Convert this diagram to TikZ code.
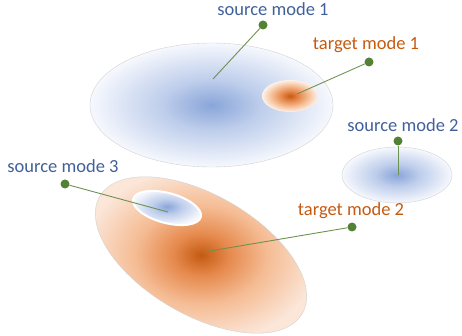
\documentclass[tikz,border=0pt]{standalone}
\usepackage{fontspec}
\setmainfont{Carlito}
\usepackage{xcolor}
\usetikzlibrary{shapes.geometric, positioning}

\definecolor{srcblue}{HTML}{41609A}
\definecolor{tgtorange}{HTML}{C55A11}
\definecolor{knobgreen}{HTML}{548235}
\definecolor{stickgreen}{HTML}{6E9150}
\definecolor{bluecore}{HTML}{89A5D9}
\definecolor{bluemid}{HTML}{BDCDEB}
\definecolor{bluerim}{HTML}{F6F8FD}
\definecolor{orangecore}{HTML}{C55A11}
\definecolor{orangedeep}{HTML}{E68A4E}
\definecolor{orangemid}{HTML}{F5BC94}
\definecolor{peach}{HTML}{FBE6D8}
\definecolor{peachrim}{HTML}{FDF2EA}

\pgfdeclareradialshading{bluemode}{\pgfpoint{0bp}{0bp}}{color(0bp)=(bluecore); color(10bp)=(bluemid); color(25bp)=(bluerim); color(50bp)=(bluerim)}
\pgfdeclareradialshading{orangemode}{\pgfpoint{0bp}{0bp}}{color(0bp)=(orangecore); color(6bp)=(orangedeep); color(14bp)=(orangemid); color(25bp)=(peach); color(50bp)=(peach)}
\pgfdeclareradialshading{smallorange}{\pgfpoint{0bp}{0bp}}{color(0bp)=(orangecore); color(8bp)=(orangedeep); color(16bp)=(orangemid); color(25bp)=(peachrim); color(50bp)=(peachrim)}

\begin{document}
\begin{tikzpicture}[x=1pt, y=-1pt,
	mode/.style={ellipse, inner sep=0pt},
	rimline/.style={draw=gray!35, line width=0.4pt},
	srctext/.style={text=srcblue, font=\fontsize{18.5}{22}\selectfont, anchor=base, inner sep=0pt},
	tgttext/.style={srctext, text=tgtorange},
	knob/.style={circle, fill=knobgreen, inner sep=0pt, minimum size=9pt},
	stick/.style={draw=stickgreen, line width=0.9pt}]
	
	\useasboundingbox (0,0) rectangle (462,336);
	
	% modes
	\node[mode, rimline, minimum width=243pt, minimum height=124pt, shading=bluemode] (m1) at (211.5,105) {};
	\node[mode, minimum width=56pt, minimum height=32pt, shading=smallorange] (n1) at (290,96) {};
	\node[mode, rimline, minimum width=110pt, minimum height=56pt, shading=bluemode] (m2) at (397,175) {};
	\node[mode, rimline, minimum width=234pt, minimum height=120pt, rotate=-30, shading=orangemode] (n2) at (201,255) {};
	\node[mode, draw=white, line width=2pt, minimum width=70pt, minimum height=30pt, rotate=-15, shading=bluemode] (m3) at (167,208) {};
	
	\coordinate (c1) at (213,79);
	\coordinate (c2) at (297,94);
	\coordinate (c3) at (398,175);
	\coordinate (c4) at (168,212);
	\coordinate (c5) at (204,252);
	
	% labels
	\node[srctext] (s1) at (273,16) {source mode 1};
	\node[tgttext] (t1) at (366,50) {target mode 1};
	\node[srctext] (s2) at (403,132) {source mode 2};
	\node[srctext] (s3) at (63,173) {source mode 3};
	\node[tgttext] (t2) at (351,215) {target mode 2};
	
	\node[knob] (k1) at (263,25) {};
	\node[knob] (k2) at (369,62) {};
	\node[knob] (k3) at (398,141) {};
	\node[knob] (k4) at (65,184) {};
	\node[knob] (k5) at (352,227) {};
	
	\path[stick]
	(k1) edge (c1)
	(k2) edge (c2)
	(k3) edge (c3)
	(k4) edge (c4)
	(k5) edge (c5);
	
\end{tikzpicture}
\end{document}
